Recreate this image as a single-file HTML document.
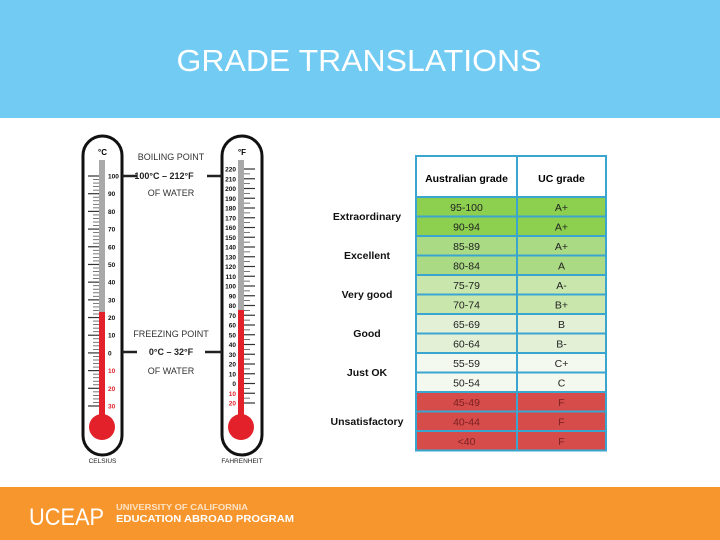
<!DOCTYPE html>
<html><head><meta charset="utf-8"><style>
html,body{margin:0;padding:0;width:720px;height:540px;overflow:hidden;background:#fff}
svg{display:block;font-family:"Liberation Sans",Arial,sans-serif}
</style></head><body>
<svg id="s" width="720" height="540" viewBox="0 0 720 540" xmlns="http://www.w3.org/2000/svg">
<rect x="0" y="0" width="720" height="118" fill="#72cbf2"/>
<text x="359" y="71" text-anchor="middle" font-size="31" fill="#fff" textLength="365" lengthAdjust="spacingAndGlyphs">GRADE TRANSLATIONS</text>
<rect x="0" y="487" width="720" height="53" fill="#f7962c"/>
<g fill="#fff">
<text x="29" y="525" font-size="24" textLength="75" lengthAdjust="spacingAndGlyphs">UCEAP</text>
<text x="116" y="510" font-size="8" font-weight="bold" textLength="132" lengthAdjust="spacingAndGlyphs" fill="#fde3c5">UNIVERSITY OF CALIFORNIA</text>
<text x="116" y="522" font-size="10.5" font-weight="bold" textLength="178" lengthAdjust="spacingAndGlyphs">EDUCATION ABROAD PROGRAM</text>
</g>
<g id="therm"></g>
<g id="labels"></g>
<g id="table"></g>
</svg>
<script>
const NS="http://www.w3.org/2000/svg";
const ausGrades=["95-100","90-94","85-89","80-84","75-79","70-74","65-69","60-64","55-59","50-54","45-49","40-44","<40"];
const ucGrades=["A+","A+","A+","A","A-","B+","B","B-","C+","C","F","F","F"];
const rowColors=["#8dcf4f","#8dcf4f","#aadb84","#aadb84","#c9e6ad","#c9e6ad","#e3f0d6","#e3f0d6","#f3f9ee","#f3f9ee","#d64c4b","#d64c4b","#d64c4b"];
const categories=["Extraordinary","Excellent","Very good","Good","Just OK","Unsatisfactory"];
const categoryY=[216,255,294,333,372,421];
const celsiusTicks=[100,90,80,70,60,50,40,30,20,10,0,-10,-20,-30];
const fahrenheitTicks=[220,210,200,190,180,170,160,150,140,130,120,110,100,90,80,70,60,50,40,30,20,10,0,-10,-20];
function el(tag,attrs,parent,txt){const e=document.createElementNS(NS,tag);for(const k in attrs)e.setAttribute(k,attrs[k]);if(txt!==undefined)e.textContent=txt;parent.appendChild(e);return e;}
const T=document.getElementById('table');
const tx0=416,tx1=517,tx2=606,ty0=156,hy=197,rh=19.5;
const hdr=el('rect',{x:tx0,y:ty0,width:tx2-tx0,height:hy-ty0,fill:'#fff',stroke:'#3aa6d0','stroke-width':2},T);


el('line',{x1:tx1,y1:ty0,x2:tx1,y2:hy,stroke:'#3aa6d0','stroke-width':2},T);
el('text',{x:(tx0+tx1)/2,y:182,'text-anchor':'middle','font-size':10.5,'font-weight':'bold',fill:'#000'},T,"Australian grade");
el('text',{x:(tx1+tx2)/2,y:182,'text-anchor':'middle','font-size':10.5,'font-weight':'bold',fill:'#000'},T,"UC grade");
ausGrades.forEach((g,i)=>{
  const y=hy+i*rh;
  const r1=el('rect',{x:tx0,y:y,width:tx1-tx0,height:rh,fill:rowColors[i],stroke:'#3aa6d0','stroke-width':2},T);
  
  
  const r2=el('rect',{x:tx1,y:y,width:tx2-tx1,height:rh,fill:rowColors[i],stroke:'#3aa6d0','stroke-width':2},T);
  
  
  const tc=i>=10?'#7a2020':'#222';
  el('text',{x:(tx0+tx1)/2,y:y+rh/2+4,'text-anchor':'middle','font-size':10.5,fill:tc},T,g);
  el('text',{x:(tx1+tx2)/2,y:y+rh/2+4,'text-anchor':'middle','font-size':10.5,fill:tc},T,ucGrades[i]);
});
const L=document.getElementById('labels');
categories.forEach((c,i)=>{
  const t=el('text',{x:367,y:categoryY[i]+4,'text-anchor':'middle','font-size':10.5,'font-weight':'bold',fill:'#111'},L,c);
  
  
});
const G=document.getElementById('therm');
function thermo(x0,w,tubeX,tickList,yTop,yBot,redTop,side,unit,name){
  el('rect',{x:x0,y:136,width:w,height:319,rx:w/2,fill:'#fff',stroke:'#111','stroke-width':3},G);
  el('text',{x:x0+w/2,y:155,'text-anchor':'middle','font-size':8,'font-weight':'bold'},G,unit);
  el('rect',{x:tubeX,y:160,width:6,height:redTop-160,fill:'#a9a9a9'},G);
  el('rect',{x:tubeX,y:redTop,width:6,height:420-redTop,fill:'#e3212a'},G);
  el('circle',{cx:tubeX+3,cy:427,r:13,fill:'#e3212a'},G);
  const n=tickList.length-1, step=(yBot-yTop)/n;
  tickList.forEach((v,i)=>{
    const y=yTop+i*step;
    const col=v<0?'#e3212a':'#111';
    if(side==='c'){
      el('line',{x1:88,x2:99,y1:y,y2:y,stroke:'#333','stroke-width':1.2},G);
      el('text',{x:108,y:y+2.5,'font-size':6.5,'font-weight':'bold',fill:col},G,String(Math.abs(v)));
      if(i<n) for(let k=1;k<5;k++){const yy=y+k*step/5;el('line',{x1:93,x2:99,y1:yy,y2:yy,stroke:'#555','stroke-width':0.8},G);}
    }else{
      el('line',{x1:244,x2:255,y1:y,y2:y,stroke:'#333','stroke-width':1.2},G);
      el('text',{x:236,y:y+2.5,'text-anchor':'end','font-size':6.5,'font-weight':'bold',fill:col},G,String(Math.abs(v)));
      if(i<n){const yy=y+step/2;el('line',{x1:244,x2:250,y1:yy,y2:yy,stroke:'#555','stroke-width':0.8},G);}
    }
  });
  el('text',{x:x0+w/2,y:463,'text-anchor':'middle','font-size':6.5,fill:'#222'},G,name);
}
thermo(83,39,99,celsiusTicks,176,406,312,'c','°C','CELSIUS');
thermo(222,40,238,fahrenheitTicks,169,403,310,'f','°F','FAHRENHEIT');
const mid=[["BOILING POINT",157],["OF WATER",193],["FREEZING POINT",334],["OF WATER",371]];
mid.forEach(m=>el('text',{x:171,y:m[1]+3,'text-anchor':'middle','font-size':9,fill:'#333'},G,m[0]));
el('text',{x:164,y:179,'text-anchor':'middle','font-size':9,'font-weight':'bold',fill:'#222'},G,"100°C  –  212°F");
el('text',{x:171,y:355,'text-anchor':'middle','font-size':9,'font-weight':'bold',fill:'#222'},G,"0°C  –  32°F");
[[122,137,176],[207,222,176],[122,137,352],[205,222,352]].forEach(l=>el('line',{x1:l[0],x2:l[1],y1:l[2],y2:l[2],stroke:'#222','stroke-width':2.5},G));
</script>
</body></html>
